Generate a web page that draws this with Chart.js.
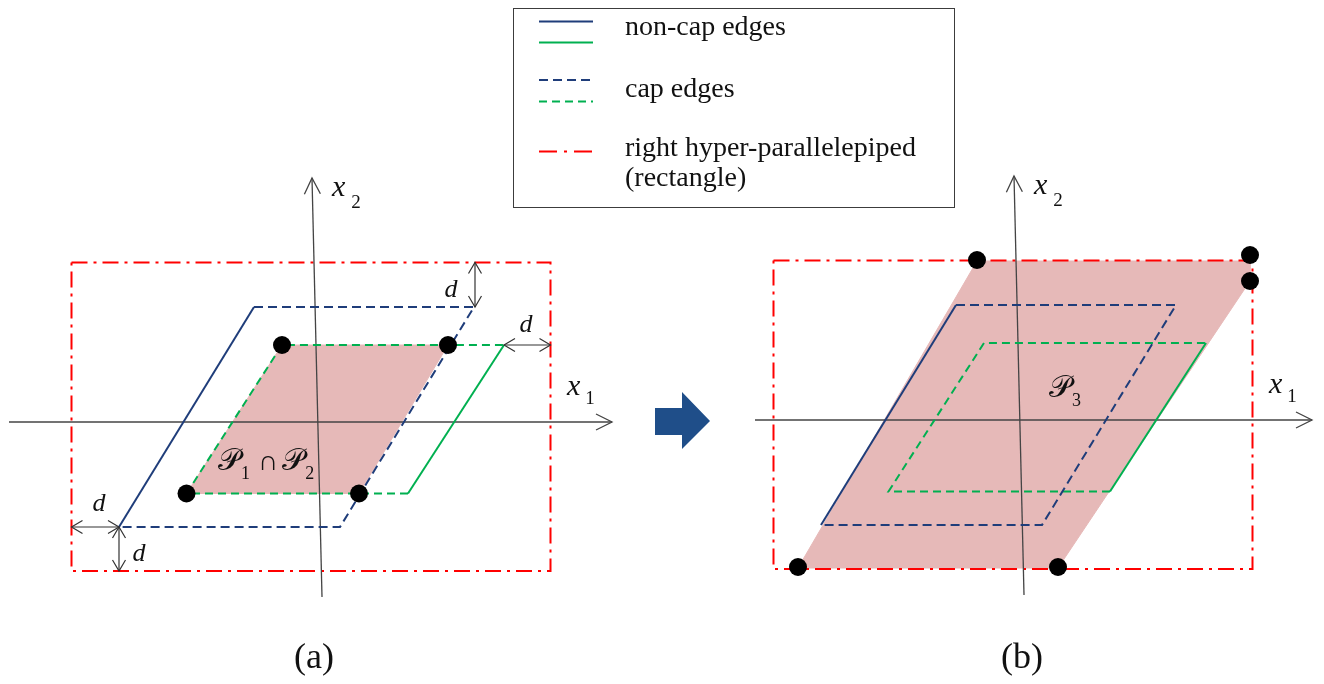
<!DOCTYPE html>
<html lang="en">
<head>
<meta charset="utf-8">
<title>Cap edges and the right hyper-parallelepiped</title>
<script src="https://cdn.jsdelivr.net/npm/chart.js@4.4.1/dist/chart.umd.min.js"></script>
<style>
  html, body { margin: 0; padding: 0; background: #fff; }
  #page { position: relative; width: 1324px; height: 684px; overflow: hidden; background: #fff;
          font-family: "Liberation Serif", "Times New Roman", serif; color: #111; }
  .panel { position: absolute; width: 620px; height: 460px; }
  #panelA { left: 8px; top: 160px; }
  #panelB { left: 710px; top: 158px; }
  #legendBox { position: absolute; left: 513px; top: 8px; width: 442px; height: 200px; box-sizing: border-box;
               border: 1.5px solid #3c3c3c; background: #fff; z-index: 2; }
  #legendKeys { position: absolute; left: 0; top: 0; z-index: 3; pointer-events: none; }
  .lt { position: absolute; left: 625px; font-size: 28px; line-height: 28px; white-space: nowrap; z-index: 3; }
  .cap { position: absolute; width: 120px; text-align: center; font-size: 36px; line-height: 36px; top: 638px; }
  #shift { position: absolute; left: 0; top: 0; }
</style>
</head>
<body>
<div id="page">
  <div class="panel" id="panelA"><canvas id="chartA" width="620" height="460"></canvas></div>
  <div class="panel" id="panelB"><canvas id="chartB" width="620" height="460"></canvas></div>
  <svg id="shift" width="1324" height="684">
    <polygon points="655,408 682,408 682,392 710,421 682,449 682,435 655,435" fill="#1F4E89"/>
  </svg>
  <div id="legendBox"></div>
  <svg id="legendKeys" width="1324" height="210"></svg>
</div>
<script>
// ---- geometry in x1/x2 units (one unit = 10 px on screen) ----
// rectangle: right hyper-parallelepiped
const boxX1 = [-24.65, 23.25, 23.25, -24.65];
const boxX2 = [15.95, 15.95, -14.9, -14.9];
// P1 (blue): non-cap edge BL->TL first, then its cap edges
const outerX1 = [-19.9, -6.4, 15.6, 2.2];
const outerX2 = [-10.5, 11.5, 11.5, -10.5];
// P2 (green): non-cap edge TR->BR first, then its cap edges
const innerX1 = [18.6, 9.0, -13.15, -3.6];
const innerX2 = [7.7, -7.15, -7.15, 7.7];
// P1 ∩ P2 vertices
const meetX1 = [-3.6, 13.0, 4.1, -13.15];
const meetX2 = [7.7, 7.7, -7.15, -7.15];
// P3 region and its marked vertices
const p3X1 = [-22.2, -4.3, 23.0, 23.0, 3.8];
const p3X2 = [-14.8, 15.9, 15.9, 13.9, -14.8];
const p3DotX1 = [-22.2, -4.3, 23.0, 23.0, 3.8];
const p3DotX2 = [-14.7, 16.0, 16.5, 13.9, -14.7];
// coordinate axes
const x1AxisA = [-30.9, 29.4];
const x1AxisB = [-26.5, 29.2];
const x2AxisX = [0.4, -0.6];
const x2AxisY = [-17.5, 24.4];
// distance-d markers (start / end of each double arrow)
const gapStartX1 = [15.7, 18.6, -24.65, -19.9];
const gapStartX2 = [15.95, 7.7, -10.5, -10.5];
const gapEndX1 = [15.7, 23.25, -19.9, -19.9];
const gapEndX2 = [11.5, 7.7, -10.5, -14.9];
// texts
const legendLabels = ['non-cap edges', 'cap edges', 'right hyper-parallelepiped', '(rectangle)'];
const panelCaptions = ['(a)', '(b)'];
const SCRIPT_P = '\u{1D4AB}';

const C = { navy: '#1F3D7A', green: '#00B050', red: '#FF0000', pink: '#E6B9B8', axis: '#444444', ink: '#111111' };
const DASH = { navy: [9, 5], green: [8, 5], red: [16, 6, 3, 6] };
const SERIF = '"Liberation Serif", "Times New Roman", serif';

const pts = (xs, ys) => xs.map((v, i) => ({ x: v, y: ys[i] }));
const ring = (xs, ys) => { const p = pts(xs, ys); p.push({ ...p[0] }); return p; };

function head(ctx, x0, y0, x1, y1, len, half, color, lw) {
  const a = Math.atan2(y1 - y0, x1 - x0), c = Math.cos(a), s = Math.sin(a);
  ctx.beginPath();
  ctx.moveTo(x1 - len * c + half * s, y1 - len * s - half * c);
  ctx.lineTo(x1, y1);
  ctx.lineTo(x1 - len * c - half * s, y1 - len * s + half * c);
  ctx.strokeStyle = color; ctx.lineWidth = lw; ctx.setLineDash([]); ctx.stroke();
}

// runs of text with subscripts: [text, font, dx, dy]
function textRun(ctx, x, y, parts) {
  let cx = x;
  for (const [t, font, dx, dy] of parts) {
    ctx.font = font;
    cx += dx;
    ctx.fillText(t, cx, y + dy);
    cx += ctx.measureText(t).width;
  }
}

const decor = {
  id: 'decor',
  afterDatasetsDraw(chart, _args, o) {
    const { ctx } = chart;
    const X = v => chart.scales.x.getPixelForValue(v), Y = v => chart.scales.y.getPixelForValue(v);
    const ds = chart.data.datasets;
    ctx.save();
    // arrowheads on the positive ends of both axes
    for (const name of ['x1', 'x2']) {
      const d = ds.find(e => e.label === name).data;
      head(ctx, X(d[0].x), Y(d[0].y), X(d[1].x), Y(d[1].y), 16, 8, C.axis, 1.3);
    }
    ctx.fillStyle = C.ink;
    ctx.textBaseline = 'alphabetic';
    ctx.textAlign = 'left';
    // axis names
    textRun(ctx, X(1.4), Y(22.6), [['x', 'italic 30px ' + SERIF, 0, 0], ['2', '19px ' + SERIF, 6, 12]]);
    textRun(ctx, X(24.9), Y(2.75), [['x', 'italic 30px ' + SERIF, 0, 0], ['1', '19px ' + SERIF, 5, 9]]);
    if (o.gaps) {
      // double arrows marking the distance d
      gapStartX1.forEach((v, i) => {
        const xa = X(v), ya = Y(gapStartX2[i]), xb = X(gapEndX1[i]), yb = Y(gapEndX2[i]);
        ctx.beginPath(); ctx.moveTo(xa, ya); ctx.lineTo(xb, yb);
        ctx.strokeStyle = '#333'; ctx.lineWidth = 1.2; ctx.setLineDash([]); ctx.stroke();
        head(ctx, xa, ya, xb, yb, 11, 6.5, '#333', 1.2);
        head(ctx, xb, yb, xa, ya, 11, 6.5, '#333', 1.2);
      });
      ctx.textAlign = 'center';
      ctx.font = 'italic 26px ' + SERIF;
      for (const [lx, ly] of [[13.3, 13.4], [20.8, 9.9], [-21.9, -8.0], [-17.9, -13.0]]) {
        ctx.fillText('d', X(lx), Y(ly) + 9);
      }
      ctx.textAlign = 'left';
    }
    // region name
    const pf = '31px "DejaVu Serif", "DejaVu Sans", ' + SERIF;
    const sf = '18px ' + SERIF;
    if (o.region === 'meet') {
      textRun(ctx, X(-10.0), Y(-4.8), [[SCRIPT_P, pf, 0, 0], ['1', sf, 1, 9], ['\u2229', '28px ' + SERIF, 8, 0],
                                       [SCRIPT_P, pf, 4, 0], ['2', sf, 1, 9]]);
    } else {
      textRun(ctx, X(2.9), Y(2.3), [[SCRIPT_P, pf, 0, 0], ['3', sf, 1, 9]]);
    }
    ctx.restore();
  }
};

function makePanel(id, cfg) {
  const line = (extra) => Object.assign({ showLine: true, pointRadius: 0, pointHoverRadius: 0, fill: false }, extra);
  return new Chart(document.getElementById(id), {
    type: 'scatter',
    data: {
      datasets: [
        { label: 'vertices', data: pts(cfg.dotX1, cfg.dotX2), showLine: false, pointRadius: 9, pointHoverRadius: 9,
          pointBackgroundColor: '#000', pointBorderColor: '#000', pointBorderWidth: 0, order: 0, clip: false },
        line({ label: 'P1', data: ring(outerX1, outerX2), borderColor: C.navy, borderWidth: 2,
               segment: { borderDash: s => (s.p0DataIndex === 0 ? [] : DASH.navy) }, order: 1 }),
        line({ label: 'P2', data: ring(innerX1, innerX2), borderColor: C.green, borderWidth: 2,
               segment: { borderDash: s => (s.p0DataIndex === 0 ? [] : DASH.green) }, order: 2 }),
        line({ label: 'x1', data: [{ x: cfg.x1Axis[0], y: 0 }, { x: cfg.x1Axis[1], y: 0 }],
               borderColor: C.axis, borderWidth: 1.3, order: 3 }),
        line({ label: 'x2', data: pts(x2AxisX, x2AxisY), borderColor: C.axis, borderWidth: 1.3, order: 3 }),
        line({ label: 'box', data: ring(boxX1, boxX2), borderColor: C.red, borderWidth: 2,
               borderDash: DASH.red, order: 4 }),
        line({ label: 'region', data: ring(cfg.fillX1, cfg.fillX2), fill: 'shape', backgroundColor: C.pink,
               borderColor: C.pink, borderWidth: 1, order: 5 })
      ]
    },
    options: {
      responsive: false, animation: false, devicePixelRatio: 1, events: [],
      layout: { padding: 0, autoPadding: false },
      scales: {
        x: { type: 'linear', min: -31, max: 31, display: false },
        y: { type: 'linear', min: -19.8, max: 26.2, display: false }
      },
      plugins: { legend: { display: false }, tooltip: { enabled: false }, decor: cfg.decor }
    },
    plugins: [decor]
  });
}

makePanel('chartA', { dotX1: meetX1, dotX2: meetX2, fillX1: meetX1, fillX2: meetX2, x1Axis: x1AxisA,
                      decor: { gaps: true, region: 'meet' } });
makePanel('chartB', { dotX1: p3DotX1, dotX2: p3DotX2, fillX1: p3X1, fillX2: p3X2, x1Axis: x1AxisB,
                      decor: { gaps: false, region: 'p3' } });

// legend: line keys and labels
const NS = 'http://www.w3.org/2000/svg';
const keys = document.getElementById('legendKeys');
const keyRows = [
  { y: 21.5, color: C.navy, dash: null }, { y: 42.5, color: C.green, dash: null },
  { y: 80, color: C.navy, dash: DASH.navy }, { y: 101.5, color: C.green, dash: DASH.green },
  { y: 151.5, color: C.red, dash: [18, 7, 3, 7] }
];
for (const k of keyRows) {
  const l = document.createElementNS(NS, 'line');
  l.setAttribute('x1', 539); l.setAttribute('x2', 593);
  l.setAttribute('y1', k.y); l.setAttribute('y2', k.y);
  l.setAttribute('stroke', k.color); l.setAttribute('stroke-width', 2.2);
  if (k.dash) l.setAttribute('stroke-dasharray', k.dash.join(' '));
  keys.appendChild(l);
}
const page = document.getElementById('page');
const baselines = [35, 97, 156.7, 186.7];
legendLabels.forEach((t, i) => {
  const d = document.createElement('div');
  d.className = 'lt'; d.textContent = t;
  d.style.top = (baselines[i] - 23.4) + 'px';
  page.appendChild(d);
});
const captionCenters = [314, 1022];
panelCaptions.forEach((t, i) => {
  const d = document.createElement('div');
  d.className = 'cap'; d.textContent = t;
  d.style.left = (captionCenters[i] - 60) + 'px';
  page.appendChild(d);
});
</script>
</body>
</html>
